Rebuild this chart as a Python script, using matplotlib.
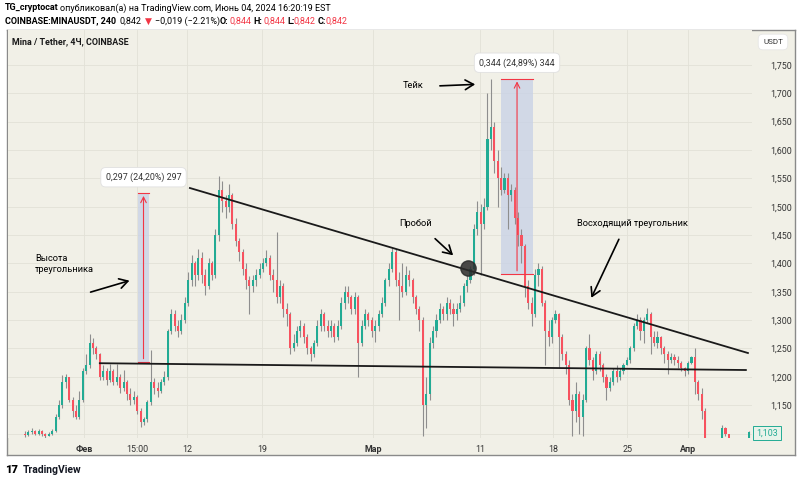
import matplotlib.pyplot as plt
from matplotlib.patches import Rectangle

plt.rcParams['font.family'] = ['Roboto', 'DejaVu Sans']

# 8h candles, bar index 0..213 (opens = previous close)
closes = [
    1.098, 1.102, 1.105, 1.100, 1.104, 1.099, 1.096, 1.100, 1.104, 1.130,
    1.150, 1.190, 1.200, 1.160, 1.140, 1.130, 1.160, 1.210, 1.220, 1.260,
    1.250, 1.240, 1.200, 1.210, 1.195, 1.210, 1.190, 1.200, 1.180, 1.190,
    1.170, 1.160, 1.165, 1.140, 1.120, 1.125, 1.155, 1.190, 1.180, 1.175,
    1.190, 1.200, 1.280, 1.310, 1.290, 1.280, 1.300, 1.330, 1.370, 1.400,
    1.380, 1.410, 1.380, 1.360, 1.400, 1.380, 1.450, 1.530, 1.510, 1.500,
    1.520, 1.470, 1.440, 1.420, 1.390, 1.370, 1.360, 1.370, 1.380, 1.390,
    1.400, 1.410, 1.380, 1.370, 1.340, 1.360, 1.320, 1.310, 1.250, 1.260,
    1.280, 1.290, 1.270, 1.250, 1.240, 1.260, 1.290, 1.310, 1.290, 1.280,
    1.290, 1.270, 1.290, 1.330, 1.350, 1.340, 1.320, 1.340, 1.260, 1.290,
    1.310, 1.300, 1.280, 1.290, 1.310, 1.330, 1.370, 1.390, 1.420, 1.370,
    1.360, 1.350, 1.380, 1.370, 1.340, 1.320, 1.300, 1.150, 1.170, 1.260,
    1.280, 1.300, 1.320, 1.310, 1.330, 1.320, 1.310, 1.320, 1.330, 1.360,
    1.370, 1.390, 1.460, 1.490, 1.470, 1.500, 1.620, 1.640, 1.580, 1.550,
    1.530, 1.550, 1.520, 1.530, 1.480, 1.450, 1.430, 1.360, 1.330, 1.310,
    1.380, 1.390, 1.330, 1.280, 1.270, 1.300, 1.310, 1.270, 1.240, 1.220,
    1.160, 1.140, 1.170, 1.130, 1.160, 1.250, 1.230, 1.210, 1.240, 1.220,
    1.200, 1.180, 1.190, 1.210, 1.200, 1.210, 1.220, 1.230, 1.250, 1.290,
    1.300, 1.280, 1.300, 1.310, 1.270, 1.260, 1.270, 1.250, 1.240, 1.230,
    1.235, 1.230, 1.225, 1.215, 1.210, 1.225, 1.235, 1.190, 1.170, 1.140,
    1.090, 1.060, 1.050, 1.070, 1.080, 1.110, 1.100, 1.080, 1.070, 1.060,
    1.070, 1.080, 1.085, 1.103,
]
highs = [
    1.104, 1.106, 1.110, 1.107, 1.108, 1.106, 1.101, 1.103, 1.108, 1.135,
    1.160, 1.203, 1.205, 1.200, 1.165, 1.150, 1.175, 1.215, 1.240, 1.276,
    1.268, 1.255, 1.242, 1.220, 1.215, 1.222, 1.214, 1.222, 1.205, 1.212,
    1.195, 1.180, 1.175, 1.168, 1.145, 1.130, 1.160, 1.247, 1.198, 1.190,
    1.196, 1.210, 1.285, 1.320, 1.318, 1.300, 1.310, 1.340, 1.385, 1.415,
    1.405, 1.425, 1.420, 1.390, 1.410, 1.405, 1.460, 1.555, 1.545, 1.520,
    1.540, 1.525, 1.480, 1.445, 1.425, 1.400, 1.378, 1.380, 1.390, 1.400,
    1.410, 1.424, 1.415, 1.390, 1.455, 1.370, 1.365, 1.330, 1.315, 1.275,
    1.290, 1.300, 1.295, 1.275, 1.255, 1.265, 1.300, 1.320, 1.315, 1.300,
    1.300, 1.295, 1.300, 1.340, 1.360, 1.360, 1.345, 1.350, 1.345, 1.300,
    1.320, 1.315, 1.305, 1.300, 1.318, 1.340, 1.375, 1.400, 1.428, 1.425,
    1.385, 1.400, 1.395, 1.388, 1.375, 1.345, 1.325, 1.305, 1.200, 1.270,
    1.290, 1.310, 1.330, 1.325, 1.340, 1.338, 1.330, 1.330, 1.345, 1.365,
    1.380, 1.395, 1.470, 1.510, 1.505, 1.515, 1.700, 1.725, 1.650, 1.600,
    1.570, 1.560, 1.560, 1.540, 1.535, 1.490, 1.460, 1.435, 1.370, 1.340,
    1.390, 1.400, 1.395, 1.335, 1.300, 1.305, 1.318, 1.312, 1.275, 1.245,
    1.230, 1.170, 1.190, 1.175, 1.170, 1.255, 1.275, 1.235, 1.245, 1.245,
    1.225, 1.205, 1.200, 1.215, 1.220, 1.215, 1.225, 1.235, 1.255, 1.295,
    1.310, 1.305, 1.305, 1.322, 1.315, 1.280, 1.280, 1.272, 1.255, 1.245,
    1.242, 1.240, 1.236, 1.228, 1.218, 1.228, 1.237, 1.250, 1.195, 1.180,
    1.145, 1.092, 1.070, 1.080, 1.090, 1.115, 1.112, 1.090, 1.085, 1.075,
    1.080, 1.088, 1.092, 1.105,
]
lows = [
    1.094, 1.096, 1.100, 1.097, 1.098, 1.095, 1.092, 1.095, 1.098, 1.102,
    1.125, 1.145, 1.180, 1.155, 1.130, 1.125, 1.125, 1.155, 1.205, 1.215,
    1.240, 1.232, 1.195, 1.195, 1.185, 1.190, 1.185, 1.185, 1.172, 1.175,
    1.160, 1.150, 1.152, 1.135, 1.112, 1.115, 1.120, 1.150, 1.170, 1.165,
    1.172, 1.185, 1.195, 1.275, 1.280, 1.270, 1.275, 1.295, 1.325, 1.360,
    1.360, 1.370, 1.365, 1.345, 1.355, 1.370, 1.375, 1.440, 1.490, 1.480,
    1.490, 1.460, 1.430, 1.405, 1.380, 1.355, 1.310, 1.350, 1.360, 1.375,
    1.385, 1.395, 1.370, 1.350, 1.330, 1.330, 1.305, 1.290, 1.240, 1.245,
    1.255, 1.270, 1.260, 1.240, 1.228, 1.235, 1.255, 1.280, 1.280, 1.270,
    1.270, 1.262, 1.265, 1.285, 1.320, 1.330, 1.310, 1.310, 1.200, 1.255,
    1.285, 1.290, 1.270, 1.262, 1.280, 1.305, 1.325, 1.360, 1.385, 1.360,
    1.300, 1.340, 1.345, 1.360, 1.330, 1.310, 1.280, 1.095, 1.110, 1.160,
    1.250, 1.270, 1.295, 1.300, 1.300, 1.310, 1.290, 1.300, 1.315, 1.325,
    1.350, 1.365, 1.380, 1.450, 1.380, 1.460, 1.495, 1.600, 1.560, 1.500,
    1.520, 1.525, 1.460, 1.510, 1.470, 1.430, 1.400, 1.340, 1.320, 1.290,
    1.305, 1.360, 1.325, 1.220, 1.255, 1.260, 1.295, 1.215, 1.230, 1.205,
    1.150, 1.095, 1.120, 1.100, 1.095, 1.155, 1.220, 1.195, 1.205, 1.210,
    1.190, 1.160, 1.175, 1.185, 1.190, 1.195, 1.205, 1.220, 1.225, 1.245,
    1.285, 1.265, 1.260, 1.295, 1.240, 1.255, 1.250, 1.240, 1.225, 1.205,
    1.225, 1.220, 1.215, 1.210, 1.202, 1.205, 1.222, 1.170, 1.160, 1.125,
    1.080, 1.045, 1.040, 1.045, 1.065, 1.078, 1.095, 1.070, 1.060, 1.050,
    1.058, 1.068, 1.078, 1.090,
]
opens = [1.100] + closes[:-1]

grid_levels = [1.10, 1.15, 1.20, 1.25, 1.30, 1.35, 1.40, 1.45, 1.50,
               1.55, 1.60, 1.65, 1.70, 1.75]
label_levels = grid_levels[1:]   # 1,100 is hidden by the last-price tag
date_pos = [17.4, 32.9, 47.6, 69.7, 102.4, 133.8, 155.3, 177.1, 195.0]
date_labels = ["Фев", "15:00", "12", "19", "Мар", "11", "18", "25", "Апр"]
month_labels = ["Фев", "Мар", "Апр"]

# pattern lines: (bar, price)
resistance = [(48.5, 1.533), (212.6, 1.242)]
support = [(22.0, 1.224), (212.0, 1.212)]
measures = [  # bar from, bar to, low, high, label
    (33.2, 36.5, 1.227, 1.524, "0,297 (24,20%) 297"),
    (140.0, 149.4, 1.382, 1.726, "0,344 (24,89%) 344"),
]

up_c, dn_c, wick_c = '#22ab94', '#f7525f', '#8e8e8e'
bg = '#f1f0e7'

fig = plt.figure(figsize=(8, 4.83), dpi=100, facecolor='white')
W, H = 800, 483


def fx(px):
    return px / W


def fy(py):
    return 1 - py / H


# panel background and border
panel = fig.add_axes([fx(7), fy(455), 788 / W, 425 / H], zorder=-5)
panel.set_facecolor(bg)
panel.set_xticks([])
panel.set_yticks([])
for s in panel.spines.values():
    s.set_color('#8a8a8a')
    s.set_linewidth(1.0)

ax = fig.add_axes([fx(8), fy(438), 744 / W, 408 / H])
ax.set_facecolor(bg)
for s in ax.spines.values():
    s.set_visible(False)

for lv in grid_levels:
    ax.axhline(lv, color='#e2e1d7', lw=0.6, zorder=0)
for p in date_pos:
    ax.axvline(p, color='#e2e1d7', lw=0.6, zorder=0)

for i, (o, h, l, c) in enumerate(zip(opens, highs, lows, closes)):
    col = up_c if c >= o else dn_c
    ax.vlines(i, l, h, color=wick_c, lw=0.8, zorder=2)
    ax.bar(i, max(abs(c - o), 0.002), bottom=min(o, c), width=0.62,
           color=col, lw=0, zorder=3)

# measurement boxes
for b0, b1, lo, hi, lab in measures:
    ax.add_patch(Rectangle((b0, lo), b1 - b0, hi - lo, facecolor='#c9d2e6',
                           alpha=0.8, lw=0, zorder=1))
    mid = (b0 + b1) / 2
    ax.plot([b0, b1], [lo, lo], color='#f23645', lw=0.8, zorder=4)
    ax.plot([b0, b1], [hi, hi], color='#f23645', lw=0.8, zorder=4)
    ax.annotate('', xy=(mid, hi), xytext=(mid, lo), zorder=4,
                arrowprops=dict(arrowstyle='->', color='#f23645', lw=0.8))
    ax.text(mid, hi + 0.028, lab, ha='center', va='center', fontsize=6.4,
            color='#333333', zorder=6,
            bbox=dict(boxstyle='round,pad=0.55', fc='white', ec='#e0e0e0', lw=0.6))

ax.plot([p[0] for p in resistance], [p[1] for p in resistance],
        color='#1a1a1a', lw=1.3, zorder=5)
ax.plot([p[0] for p in support], [p[1] for p in support],
        color='#1a1a1a', lw=1.3, zorder=5)

ax.plot(130.3, 1.392, 'o', ms=11, color='#2b2b2b', alpha=0.85, zorder=6)

arrow = dict(arrowstyle='->,head_length=0.6,head_width=0.35', color='black', lw=1.2)
ax.text(2.9, 1.399, "Высота\nтреугольника", fontsize=6.7, va='center',
        ha='left', linespacing=1.3)
ax.annotate('', xy=(31.5, 1.371), xytext=(18.5, 1.348), arrowprops=arrow)
ax.text(111.2, 1.713, "Тейк", fontsize=6.7, va='center', ha='left')
ax.annotate('', xy=(133.2, 1.716), xytext=(121.2, 1.713), arrowprops=arrow)
ax.text(110.0, 1.470, "Пробой", fontsize=6.7, va='center', ha='left')
ax.annotate('', xy=(126.5, 1.411), xytext=(120.0, 1.447), arrowprops=arrow)
ax.text(162.4, 1.470, "Восходящий треугольник", fontsize=6.7, va='center',
        ha='left')
ax.annotate('', xy=(166.2, 1.335), xytext=(175.0, 1.447), arrowprops=arrow)

ax.set_xlim(-5, 213.8)
ax.set_ylim(1.0921, 1.8117)

ax.yaxis.tick_right()
ax.set_yticks(label_levels)
ax.set_yticklabels([f"{v:.3f}".replace('.', ',') for v in label_levels])
ax.tick_params(axis='y', length=0, pad=13, labelsize=6.4, labelcolor='#333333')
ax.set_xticks(date_pos)
ax.set_xticklabels(date_labels)
ax.tick_params(axis='x', length=0, pad=5, labelsize=6.4, labelcolor='#333333')
for t in ax.get_xticklabels():
    if t.get_text() in month_labels:
        t.set_fontweight('bold')
ax.grid(False)

# last price tag
fig.text(fx(767), fy(433), f"{closes[-1]:.3f}".replace('.', ','), fontsize=6.4,
         color=up_c, ha='center', va='center',
         bbox=dict(boxstyle='square,pad=0.3', fc='#e9f3ea', ec=up_c, lw=0.7))
fig.text(fx(773), fy(42), "USDT", fontsize=5.8, color='#333333', ha='center',
         va='center', bbox=dict(boxstyle='round,pad=0.6', fc='white',
                                ec='#e6e6e6', lw=0.6))

fig.text(fx(12), fy(42), "Mina / Tether, 4Ч, COINBASE", fontsize=6.4,
         fontweight='bold', color='#1a1a1a', va='center')

# header
hy1, hy2 = fy(8), fy(21)
fig.text(fx(5), hy1, "TG_cryptocat", fontsize=6.5, fontweight='bold', va='center')
fig.text(fx(60), hy1, "опубликовал(а) на TradingView.com, Июнь 04, 2024 16:20:19 EST",
         fontsize=6.5, va='center')
red = '#f23645'
parts = [
    (5, "COINBASE:MINAUSDT, 240", 'bold', 'black'),
    (120, "0,842", 'normal', 'black'),
    (145, "▼", 'normal', red),
    (155, "−0,019 (−2.21%)", 'normal', 'black'),
    (220, "O:", 'bold', 'black'), (229, "0,844", 'normal', red),
    (253, "H:", 'bold', 'black'), (263, "0,844", 'normal', red),
    (287, "L:", 'bold', 'black'), (294, "0,842", 'normal', red),
    (318, "C:", 'bold', 'black'), (326, "0,842", 'normal', red),
]
for px, s, wgt, col in parts:
    fig.text(fx(px), hy2, s, fontsize=6.5, fontweight=wgt, color=col, va='center')

fig.text(fx(5), fy(470), "17", fontsize=8, fontweight='heavy', va='center')
fig.text(fx(23), fy(470), "TradingView", fontsize=7.5, fontweight='bold',
         va='center', color='#131722')

fig.savefig('out.png', dpi=100, facecolor='white')
